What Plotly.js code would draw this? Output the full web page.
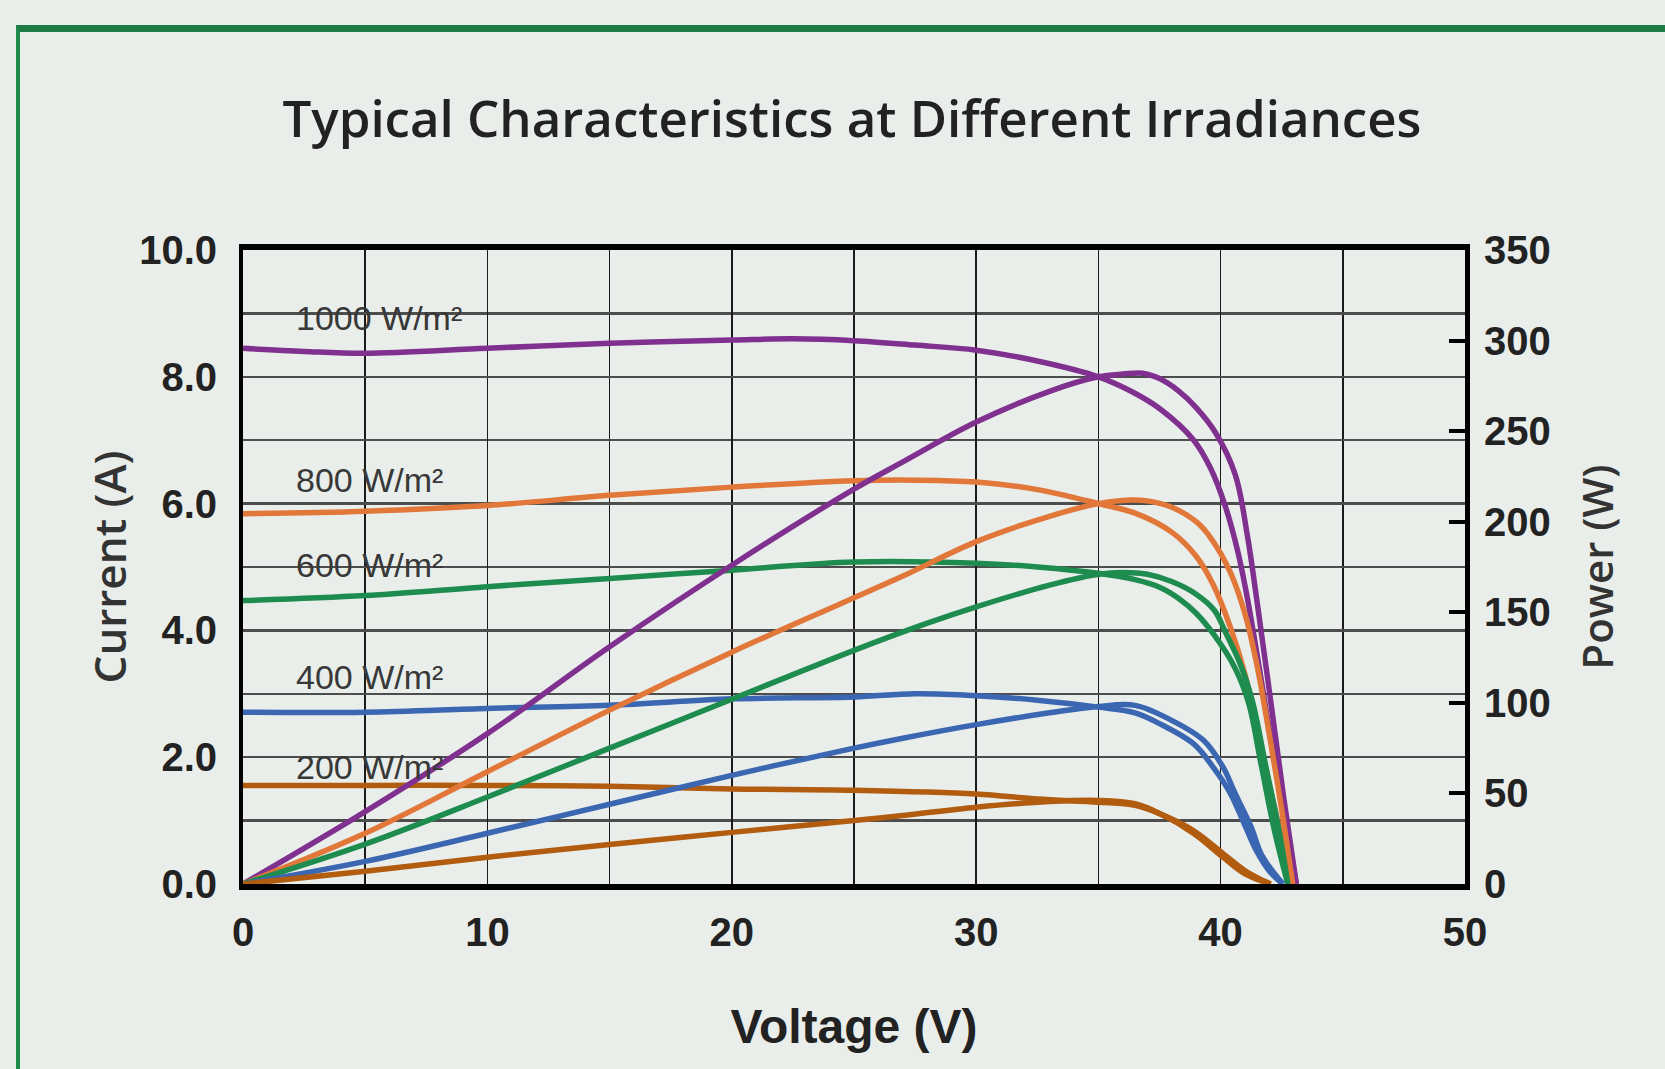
<!DOCTYPE html>
<html><head><meta charset="utf-8">
<script src="https://cdn.plot.ly/plotly-3.0.1.min.js"></script>
<style>
html,body{margin:0;padding:0;background:#e9eeeb;width:1665px;height:1069px;overflow:hidden;}
#frame{position:absolute;left:16px;top:25px;width:1700px;height:1100px;border-top:7px solid #1d7a43;border-left:4px solid #1f8a4c;box-sizing:border-box;}
#chart{position:absolute;left:0;top:0;width:1665px;height:1069px;}
</style></head><body>
<div id="frame"></div><div id="chart"></div>
<script>
// ---- data ----
const irradianceLabels = ['1000 W/m²', '800 W/m²', '600 W/m²', '400 W/m²', '200 W/m²'];
const labelY = [8.93, 6.37, 5.03, 3.26, 1.84];

const V_1000_I = [0, 2.5, 5, 10, 15, 20, 22.5, 25, 27.5, 30, 32.5, 35, 36.3, 37.5, 38.9, 39.6, 40.2, 40.7, 41.1, 41.5, 41.9, 42.4, 43.1];
const I_1000   = [8.45, 8.40, 8.37, 8.45, 8.53, 8.58, 8.60, 8.57, 8.50, 8.42, 8.25, 8.0, 7.78, 7.5, 7.0, 6.55, 5.95, 5.25, 4.5, 3.6, 2.65, 1.5, 0];
const V_1000_P = [0, 5, 10, 15, 20, 25, 27, 30, 33, 35, 36, 36.8, 37.5, 38.3, 39, 39.8, 40.6, 41.1, 41.5, 42.05, 42.6, 43.1];
const P_1000   = [0, 40, 83, 131, 176, 218, 233, 255, 272, 280, 281.5, 282, 279, 272, 263, 249, 226, 192, 155, 101, 46, 0];

const V_800_I = [0, 5, 10, 15, 20, 25, 27.5, 30, 32.5, 35, 36.5, 38, 39, 39.7, 40.4, 41, 41.5, 42, 42.5, 42.95];
const I_800   = [5.84, 5.88, 5.97, 6.13, 6.26, 6.36, 6.37, 6.34, 6.22, 6.0, 5.85, 5.55, 5.17, 4.72, 4.05, 3.3, 2.45, 1.55, 0.72, 0];
const V_800_P = [0, 5, 10, 15, 20, 24.5, 27, 30, 33, 35, 36.3, 37, 38, 39, 39.6, 40.4, 41, 41.5, 42, 42.5, 42.95];
const P_800   = [0, 28, 62, 96, 128, 155, 170, 189, 203, 210, 212, 211.5, 208, 200, 191, 172, 149, 120, 82, 41, 0];

const V_600_I = [0, 5, 10, 15, 20, 25, 30, 32.5, 35, 36.5, 37.5, 38.3, 39, 39.75, 40.6, 41.15, 41.65, 42.2, 42.75];
const I_600   = [4.47, 4.55, 4.69, 4.82, 4.95, 5.08, 5.06, 5.0, 4.9, 4.8, 4.68, 4.5, 4.27, 3.92, 3.4, 2.85, 1.9, 0.85, 0];
const V_600_P = [0, 5, 10, 15, 20, 25, 28, 30, 33, 35, 36, 37, 38, 39, 39.75, 40.2, 40.85, 41.3, 41.85, 42.4, 42.75];
const P_600   = [0, 22, 48, 75, 102, 129, 144, 153, 165, 171, 172, 171, 167, 160, 151, 139, 120, 101, 65, 29, 0];

const V_400_I = [0, 5, 10, 15, 20, 25, 27.5, 30, 32.5, 35, 36.5, 37.5, 38.9, 39.7, 40.4, 41, 41.5, 42, 42.55];
const I_400   = [2.71, 2.71, 2.77, 2.82, 2.92, 2.95, 3.0, 2.97, 2.9, 2.79, 2.7, 2.53, 2.21, 1.84, 1.43, 0.92, 0.5, 0.2, 0];
const V_400_P = [0, 5, 10, 15, 20, 25, 27, 30, 33, 35, 36.5, 38, 39.3, 40.1, 40.6, 41.25, 41.7, 42.55];
const P_400   = [0, 12.5, 28, 44, 60, 75, 80.5, 88, 94.5, 98, 98.6, 90.3, 79.3, 64.5, 49.8, 31.4, 15.5, 0];

const V_200_I = [0, 5, 10, 15, 20, 25, 30, 32.5, 35, 36.5, 37.5, 38.9, 40.1, 41, 41.5, 42.05];
const I_200   = [1.555, 1.555, 1.555, 1.54, 1.50, 1.48, 1.42, 1.34, 1.29, 1.24, 1.11, 0.84, 0.48, 0.21, 0.1, 0];
const V_200_P = [0, 5, 10, 15, 20, 25, 27, 30, 33, 35, 36.5, 37.5, 38.9, 40.1, 41, 42.05];
const P_200   = [0, 7, 14.8, 21.8, 28.5, 35, 37.8, 42.4, 45.5, 46.1, 44.3, 39, 27.9, 14.8, 5.6, 0];

// ---- styles ----
const colors = ['#80308f', '#e2773a', '#1e8c4e', '#3a66b2', '#b25c10'];
const series = [
  [V_1000_I, I_1000, V_1000_P, P_1000],
  [V_800_I, I_800, V_800_P, P_800],
  [V_600_I, I_600, V_600_P, P_600],
  [V_400_I, I_400, V_400_P, P_400],
  [V_200_I, I_200, V_200_P, P_200]
];

const traces = [];
series.forEach((s, i) => {
  traces.push({x: s[0], y: s[1], type: 'scatter', mode: 'lines', name: irradianceLabels[i] + ' I-V',
    line: {color: colors[i], width: 5.5, shape: 'spline', smoothing: 1.0}, yaxis: 'y', hoverinfo: 'x+y+name'});
  traces.push({x: s[2], y: s[3], type: 'scatter', mode: 'lines', name: irradianceLabels[i] + ' P-V',
    line: {color: colors[i], width: 5.5, shape: 'spline', smoothing: 1.0}, yaxis: 'y2', hoverinfo: 'x+y+name'});
});

const tickFont = {family: 'Liberation Sans, Arial, sans-serif', size: 40, weight: 'bold', color: '#222'};

const annotations = irradianceLabels.map((t, i) => ({
  text: t, x: 2.1, y: labelY[i], xref: 'x', yref: 'y', xanchor: 'left', yanchor: 'middle',
  showarrow: false, font: {family: 'Liberation Sans, Arial, sans-serif', size: 34, color: '#383838'}
}));

const layout = {
  width: 1665, height: 1069,
  paper_bgcolor: 'rgba(0,0,0,0)', plot_bgcolor: '#e9eeeb',
  margin: {l: 243, r: 200, t: 250, b: 185, pad: 0},
  showlegend: false,
  title: {text: 'Typical Characteristics at Different Irradiances',
    font: {family: 'Open Sans, sans-serif', size: 51, color: '#222', weight: 600},
    xref: 'container', x: 0.5117, xanchor: 'center', yref: 'container', y: 0.889, yanchor: 'middle'},
  xaxis: {
    range: [0, 50], tick0: 0, dtick: 10, ticks: '', showgrid: true, gridcolor: '#1a1a1a', gridwidth: 1.5,
    minor: {dtick: 5, showgrid: true, gridcolor: '#1a1a1a', gridwidth: 1.5},
    showline: true, linecolor: '#000', linewidth: 6, mirror: true, zeroline: false,
    tickfont: tickFont, ticklabelstandoff: 8,
    title: {text: 'Voltage (V)', standoff: 58,
      font: {family: 'Liberation Sans, Arial, sans-serif', size: 48, weight: 'bold', color: '#222'}}
  },
  yaxis: {
    range: [0, 10], tick0: 0, dtick: 2, tickformat: '.1f', ticks: '', showgrid: true, gridcolor: '#4d4d4d', gridwidth: 2.5,
    minor: {dtick: 1, showgrid: true, gridcolor: '#4d4d4d', gridwidth: 2.5},
    showline: true, linecolor: '#000', linewidth: 4, zeroline: false,
    tickfont: tickFont, ticklabelstandoff: 14,
    title: {text: 'Current (A)', standoff: 0,
      font: {family: 'Open Sans, sans-serif', size: 44, weight: 600, color: '#333'}}
  },
  yaxis2: {
    range: [0, 350], tick0: 0, dtick: 50, overlaying: 'y', side: 'right', showgrid: false, zeroline: false,
    ticks: 'inside', ticklen: 16, tickwidth: 4, tickcolor: '#000',
    showline: true, linecolor: '#000', linewidth: 5,
    tickfont: tickFont, ticklabelstandoff: 6,
    title: {text: 'Power (W)', standoff: 35,
      font: {family: 'Open Sans, sans-serif', size: 42, weight: 600, color: '#333'}}
  },
  annotations: annotations
};

Plotly.newPlot('chart', traces, layout, {displayModeBar: false, staticPlot: true});
</script>
</body></html>
